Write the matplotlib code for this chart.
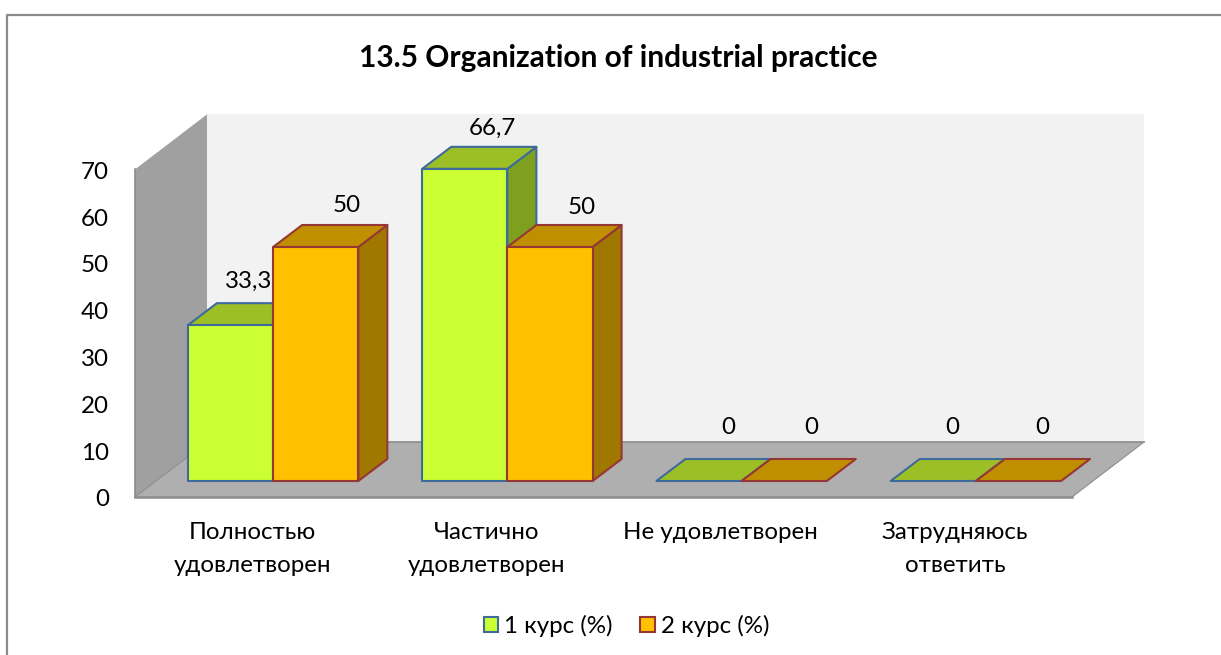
#!/usr/bin/env python

import matplotlib
matplotlib.use('Agg')
import matplotlib.pyplot as plt
from matplotlib.patches import Patch, Polygon

plt.rcParams['font.family'] = ['Lato', 'Noto Sans', 'DejaVu Sans']

title = '13.5 Organization of industrial practice'
categories = ['Полностью\nудовлетворен', 'Частично\nудовлетворен',
              'Не удовлетворен', 'Затрудняюсь\nответить']
series_names = ['1 курс (%)', '2 курс (%)']
course1 = [33.3, 66.7, 0, 0]
course2 = [50, 50, 0, 0]
value_labels1 = ['33,3', '66,7', '0', '0']
value_labels2 = ['50', '50', '0', '0']
yticks = [0, 10, 20, 30, 40, 50, 60, 70]

# pixels per data unit, and where the front corner of the floor sits
WIDTH, HEIGHT = 1221, 655
XPX, YPX = 234.25, 4.68
X0, Y0 = 135, 497
FS = 17.4


def px(dx, dy):
    # pixel distances to data distances
    return dx / XPX, dy / YPX


def quad(ax, pts, face, edge=None, lw=1.5, z=2):
    ax.add_patch(Polygon(pts, closed=True, facecolor=face,
                         edgecolor=edge if edge else face,
                         linewidth=lw, joinstyle='round', zorder=z))


def box(ax, x, w, h, base, depth, front, top, side, edge, z):
    bx, by = base
    dx, dy = depth
    x0, x1 = x + bx, x + w + bx
    y0, y1 = by, h + by
    if h > 0:
        quad(ax, [(x1, y0), (x1 + dx, y0 + dy), (x1 + dx, y1 + dy), (x1, y1)],
             side, edge, z=z)
    quad(ax, [(x0, y1), (x1, y1), (x1 + dx, y1 + dy), (x0 + dx, y1 + dy)],
         top, edge, z=z)
    if h > 0:
        quad(ax, [(x0, y0), (x1, y0), (x1, y1), (x0, y1)], front, edge, z=z)


fig = plt.figure(figsize=(WIDTH / 100, HEIGHT / 100), dpi=100, facecolor='white')
ax = fig.add_axes([0, 0, 1, 1])
ax.set_xlim(-X0 / XPX, (WIDTH - X0) / XPX)
ax.set_ylim((Y0 - HEIGHT) / YPX, Y0 / YPX)
ax.axis('off')

# outer chart frame, open on the right and at the bottom
frame_x, frame_y = (7 - X0) / XPX, (Y0 - 14.5) / YPX
ax.plot([frame_x, frame_x, (WIDTH - X0) / XPX],
        [(Y0 - HEIGHT) / YPX, frame_y, frame_y],
        color='#8c8c8c', lw=1.6, zorder=1)

n = len(categories)
wall_dx, wall_dy = px(72, 55)
top_val = yticks[-1]

# back wall, side wall, floor
quad(ax, [(wall_dx, wall_dy), (n + wall_dx, wall_dy),
          (n + wall_dx, top_val + wall_dy), (wall_dx, top_val + wall_dy)],
     '#f2f2f2', lw=0, z=1)
quad(ax, [(0, 0), (wall_dx, wall_dy), (wall_dx, top_val + wall_dy), (0, top_val)],
     '#a0a0a0', lw=0, z=1)
quad(ax, [(0, 0), (n, 0), (n + wall_dx, wall_dy), (wall_dx, wall_dy)],
     '#afafaf', lw=0, z=1.5)
ax.plot([0, n], [0, 0], color='#8c8c8c', lw=1.8, zorder=1.6)
ax.plot([wall_dx, n + wall_dx], [wall_dy, wall_dy], color='#8c8c8c', lw=1.2, zorder=1.6)
ax.plot([0, 0], [0, top_val], color='#8c8c8c', lw=1.2, zorder=1.6)
ax.plot([0, wall_dx], [0, wall_dy], color='#8c8c8c', lw=0.8, zorder=1.6)
ax.plot([n, n + wall_dx], [0, wall_dy], color='#8c8c8c', lw=0.8, zorder=1.6)

# bars
bar_w = 85.2 / XPX
base = px(21, 16)
depth = px(29, 22)
# (px right of bar front centre, px above bar top) for the value labels
offsets1 = [(18, 44), (27.5, 41), (29, 54), (19, 54)]
offsets2 = [(31, 42), (31.5, 40), (27, 54), (23.5, 54)]

for i in range(n):
    centre = i + 0.5
    box(ax, centre - bar_w, bar_w, course1[i], base, depth,
        '#ccff33', '#9bbf25', '#7f9f1f', '#3f6a9c', 3 + i)
    box(ax, centre, bar_w, course2[i], base, depth,
        '#ffc000', '#c08f00', '#a07800', '#953735', 3.5 + i)
    for xb, val, lab, off in ((centre - bar_w / 2, course1[i], value_labels1[i], offsets1[i]),
                              (centre + bar_w / 2, course2[i], value_labels2[i], offsets2[i])):
        ax.text(xb + base[0] + off[0] / XPX, val + base[1] + off[1] / YPX, lab,
                ha='center', va='center', fontsize=FS, color='black', zorder=10)
    ax.text(centre, -25 / YPX, categories[i], ha='center', va='top',
            fontsize=FS, linespacing=1.7, color='black', zorder=10)

for t in yticks:
    ax.text(-26 / XPX, t - 3 / YPX, str(t), ha='right', va='center', fontsize=FS, zorder=10)

ax.text((618 - X0) / XPX, (Y0 - 58) / YPX, title, ha='center', va='center',
        fontsize=21.5, fontweight='bold', zorder=10)

handles = [Patch(facecolor='#ccff33', edgecolor='#3f6a9c', linewidth=1.5),
           Patch(facecolor='#ffc000', edgecolor='#953735', linewidth=1.5)]
ax.legend(handles, series_names, loc='center', ncol=2, frameon=False,
          bbox_to_anchor=(626.5 / WIDTH, 1 - 626 / HEIGHT), fontsize=FS,
          handlelength=0.6, handleheight=0.6, handletextpad=0.25,
          columnspacing=1.15, borderpad=0)

fig.savefig('out.png', dpi=100, facecolor='white')
